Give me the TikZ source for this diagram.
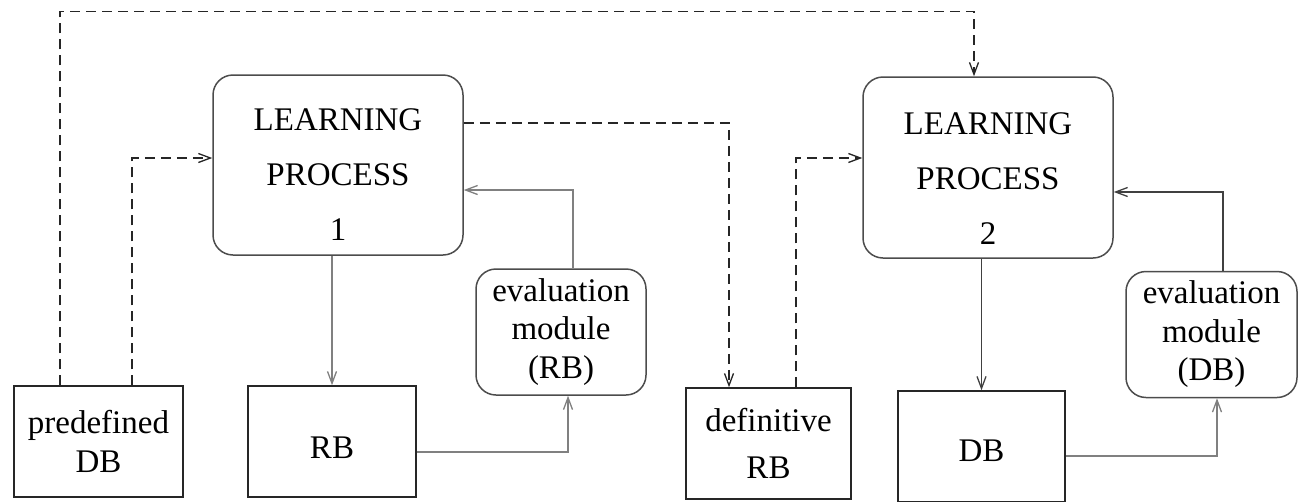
\documentclass[tikz,border=0pt]{standalone}
\usepackage{fontspec}
\setmainfont{Liberation Serif}
\usetikzlibrary{arrows.meta}
\begin{document}
\begin{tikzpicture}[x=1pt,y=-1pt,
  every node/.style={font=\fontsize{33}{38.5}\selectfont},
  lpbox/.style={draw=black!70, line width=1.5pt, rounded corners=20pt,
    minimum width=250pt, minimum height=180pt, inner sep=0pt},
  lptext/.style={align=center, font=\fontsize{33}{55}\selectfont, inner sep=0pt},
  evalbox/.style={draw=black!70, line width=1.5pt, rounded corners=20pt,
    minimum width=170pt, minimum height=126pt, align=center, inner sep=0pt},
  dbbox/.style={draw=black!85, line width=1.5pt, minimum height=111pt,
    align=center, inner sep=0pt},
  tip/.style={-{Straight Barb[length=12pt,width=9pt,line width=1.3pt]}},
  dasharr/.style={draw=black!85, line width=1.3pt, dash pattern=on 10pt off 6pt, tip},
  solidarr/.style={draw=black!75, line width=1.5pt, tip},
  greyarr/.style={draw=black!50, line width=1.5pt, tip},
]
\useasboundingbox (0,0) rectangle (1301,501);

% learning processes
\node[lpbox] (lp1) at (338,165) {};
\node[lptext] (lp1t) at ([yshift=-10pt]lp1.center) {LEARNING\\PROCESS\\1};
\node[lpbox, minimum height=181pt] (lp2) at (988,167.5) {};
\node[lptext] (lp2t) at ([yshift=-11.5pt]lp2.center) {LEARNING\\PROCESS\\2};

% evaluation modules
\node[evalbox] (erb) at (561,332) {evaluation\\module\\(RB)};
\node[evalbox, minimum width=171pt] (edb) at (1211.5,334.5) {evaluation\\module\\(DB)};

% data / rule bases
\node[dbbox, minimum width=169pt] (pd) at (98.5,441.5) {predefined\\DB};
\node[dbbox, minimum width=168pt, text height=33pt, text depth=0pt] (rb) at (332,441.5) {RB};
\node[dbbox, minimum width=165pt] (drb) at (768.5,443.5) {definitive\\[8.5pt]RB};
\node[dbbox, minimum width=167pt, text height=29pt, text depth=0pt] (db) at (981.5,446.5) {DB};

% dashed connectors
\draw[dasharr] ([xshift=-38.5pt]pd.north) -- ++(0,-374) -| ([xshift=-14pt]lp2.north);
\draw[dasharr] ([xshift=33.5pt]pd.north) |- ([yshift=7pt]lp1.west);
\draw[dasharr] ([yshift=42pt]lp1.east) -| ([xshift=-39.5pt]drb.north);
\draw[dasharr] ([xshift=27.5pt]drb.north) |- ([yshift=9.5pt]lp2.west);

% solid connectors
\draw[greyarr] (lp1.south -| rb.north) -- (rb.north);
\draw[greyarr] ([yshift=-10.5pt]rb.east) -| ([xshift=7pt]erb.south);
\draw[greyarr] ([xshift=12pt]erb.north) |- ([yshift=-25pt]lp1.east);
\draw[solidarr] (lp2.south -| db.north) -- (db.north);
\draw[greyarr] ([yshift=-9.5pt]db.east) -| ([xshift=5.5pt]edb.south);
\draw[solidarr] ([xshift=11.5pt]edb.north) |- ([yshift=-24.5pt]lp2.east);
\end{tikzpicture}
\end{document}
